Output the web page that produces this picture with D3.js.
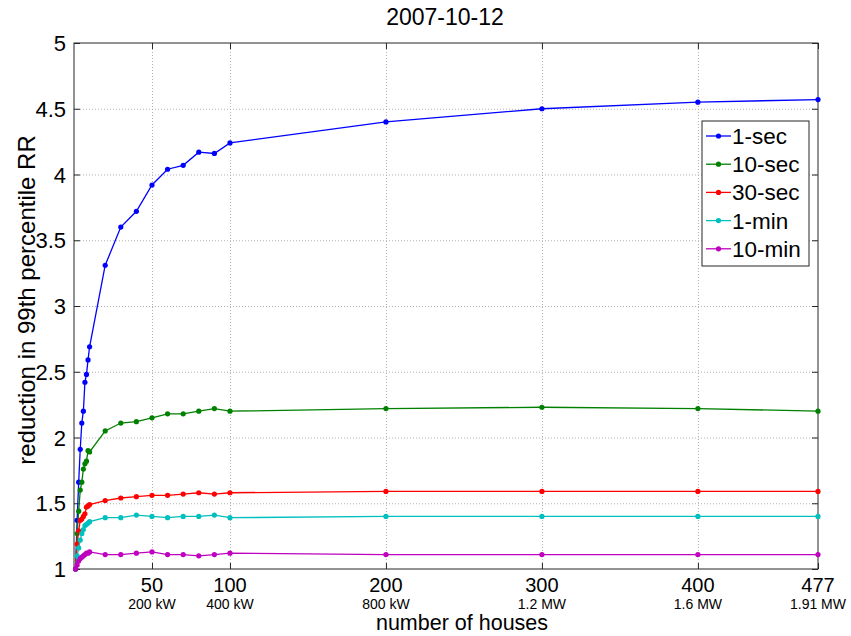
<!DOCTYPE html>
<html>
<head>
<meta charset="utf-8">
<script src="https://cdn.jsdelivr.net/npm/d3@7"></script>
<style>
  body { margin: 0; background: #fff; }
  svg { display: block; font-family: "Liberation Sans", Arial, Helvetica, sans-serif; }
</style>
</head>
<body>
<svg id="chart" width="851" height="636"></svg>
<script>
// Number of aggregated houses at each sample point
const houses = [1, 2, 3, 4, 5, 6, 7, 8, 9, 10, 20, 30, 40, 50, 60, 70, 80, 90, 100, 200, 300, 400, 477];

// Reduction in 99th percentile ramp rate for each averaging window
const sec1  = [1.00, 1.37, 1.66, 1.91, 2.11, 2.20, 2.42, 2.48, 2.59, 2.69, 3.31, 3.60, 3.72, 3.92, 4.04, 4.07, 4.17, 4.16, 4.24, 4.40, 4.50, 4.55, 4.57];
const sec10 = [1.00, 1.27, 1.44, 1.60, 1.66, 1.76, 1.80, 1.82, 1.90, 1.89, 2.05, 2.11, 2.12, 2.15, 2.18, 2.18, 2.20, 2.22, 2.20, 2.22, 2.23, 2.22, 2.20];
const sec30 = [1.00, 1.19, 1.29, 1.37, 1.38, 1.40, 1.42, 1.47, 1.48, 1.49, 1.52, 1.54, 1.55, 1.56, 1.56, 1.57, 1.58, 1.57, 1.58, 1.59, 1.59, 1.59, 1.59];
const min1  = [1.00, 1.10, 1.16, 1.22, 1.27, 1.30, 1.33, 1.34, 1.35, 1.36, 1.39, 1.39, 1.41, 1.40, 1.39, 1.40, 1.40, 1.41, 1.39, 1.40, 1.40, 1.40, 1.40];
const min10 = [1.00, 1.03, 1.06, 1.08, 1.09, 1.10, 1.11, 1.12, 1.12, 1.13, 1.11, 1.11, 1.12, 1.13, 1.11, 1.11, 1.10, 1.11, 1.12, 1.11, 1.11, 1.11, 1.11];

const seriesNames  = ["1-sec", "10-sec", "30-sec", "1-min", "10-min"];
const seriesValues = [sec1, sec10, sec30, min1, min10];
const seriesColors = ["#0000ff", "#008000", "#ff0000", "#00bfbf", "#bf00bf"];

// Tick labels: house count and the matching installed capacity
const xTicks = [50, 100, 200, 300, 400, 477];
const xTickPower = ["200 kW", "400 kW", "800 kW", "1.2 MW", "1.6 MW", "1.91 MW"];
const yTicks = [1, 1.5, 2, 2.5, 3, 3.5, 4, 4.5, 5];

const svg = d3.select("#chart");
const margin = { left: 74, right: 33, top: 43, bottom: 67 };
const W = 851, H = 636;
const x = d3.scaleLinear().domain([0, 477]).range([margin.left, W - margin.right]);
const y = d3.scaleLinear().domain([1, 5]).range([H - margin.bottom, margin.top]);

const x0 = x.range()[0], x1 = x.range()[1], y0 = y.range()[0], y1 = y.range()[1];

// Dotted grid
const grid = svg.append("g").attr("stroke", "#b0b0b0").attr("stroke-width", 1).attr("stroke-dasharray", "1,2");
grid.selectAll("line.v").data(xTicks.filter(d => d < 477)).enter().append("line")
  .attr("x1", d => x(d) + 0.5).attr("x2", d => x(d) + 0.5).attr("y1", y1).attr("y2", y0);
grid.selectAll("line.h").data(yTicks.filter(d => d > 1 && d < 5)).enter().append("line")
  .attr("x1", x0).attr("x2", x1).attr("y1", d => y(d) + 0.5).attr("y2", d => y(d) + 0.5);

// Axes with inward ticks on all four sides
const tickLen = 6;
const xAxisB = d3.axisBottom(x).tickValues(xTicks).tickSizeInner(-tickLen).tickSizeOuter(0).tickFormat("");
const xAxisT = d3.axisTop(x).tickValues(xTicks).tickSizeInner(-tickLen).tickSizeOuter(0).tickFormat("");
const yAxisL = d3.axisLeft(y).tickValues(yTicks).tickSizeInner(-tickLen).tickSizeOuter(0).tickFormat("");
const yAxisR = d3.axisRight(y).tickValues(yTicks).tickSizeInner(-tickLen).tickSizeOuter(0).tickFormat("");

function styleAxis(g) {
  g.selectAll("path, line").attr("stroke", "#262626");
  g.select(".domain").remove();
}
svg.append("g").attr("transform", `translate(0,${y0})`).call(xAxisB).call(styleAxis);
svg.append("g").attr("transform", `translate(0,${y1})`).call(xAxisT).call(styleAxis);
svg.append("g").attr("transform", `translate(${x0},0)`).call(yAxisL).call(styleAxis);
svg.append("g").attr("transform", `translate(${x1},0)`).call(yAxisR).call(styleAxis);

svg.append("rect").attr("x", x0).attr("y", y1).attr("width", x1 - x0).attr("height", y0 - y1)
  .attr("fill", "none").attr("stroke", "#262626").attr("stroke-width", 1);

// Tick labels
svg.append("g").selectAll("text").data(yTicks).enter().append("text")
  .attr("x", x0 - 8).attr("y", d => y(d) + 8).attr("text-anchor", "end")
  .attr("font-size", 22).attr("fill", "#000").text(d => d);

const xl = svg.append("g");
xl.selectAll("text.n").data(xTicks).enter().append("text")
  .attr("x", d => x(d)).attr("y", y0 + 23).attr("text-anchor", "middle")
  .attr("font-size", 20).attr("fill", "#000").text(d => d);
xl.selectAll("text.p").data(xTicks).enter().append("text")
  .attr("x", d => x(d)).attr("y", y0 + 40).attr("text-anchor", "middle")
  .attr("font-size", 14).attr("fill", "#000").text((d, i) => xTickPower[i]);

// Axis titles and chart title
svg.append("text").attr("x", 462).attr("y", 630).attr("text-anchor", "middle")
  .attr("font-size", 21.5).attr("fill", "#000").text("number of houses");
svg.append("text").attr("transform", `translate(35,300) rotate(-90)`)
  .attr("text-anchor", "middle").attr("font-size", 24).attr("fill", "#000")
  .text("reduction in 99th percentile RR");
svg.append("text").attr("x", 445).attr("y", 25).attr("text-anchor", "middle")
  .attr("font-size", 23).attr("fill", "#000").text("2007-10-12");

// Series lines with dot markers
const line = d3.line().x((d, i) => x(houses[i])).y(d => y(d));
const plot = svg.append("g");
seriesValues.forEach((vals, s) => {
  const g = plot.append("g");
  g.append("path").datum(vals).attr("d", line).attr("fill", "none")
    .attr("stroke", seriesColors[s]).attr("stroke-width", 1.3);
  g.selectAll("circle").data(vals).enter().append("circle")
    .attr("cx", (d, i) => x(houses[i])).attr("cy", d => y(d)).attr("r", 2.6)
    .attr("fill", seriesColors[s]);
});

// Legend
const lg = svg.append("g").attr("transform", "translate(702,121)");
lg.append("rect").attr("width", 107).attr("height", 145).attr("fill", "#fff").attr("stroke", "#262626");
seriesNames.forEach((name, i) => {
  const yy = 15 + i * 28.2;
  lg.append("line").attr("x1", 4).attr("x2", 29).attr("y1", yy).attr("y2", yy)
    .attr("stroke", seriesColors[i]).attr("stroke-width", 1.3);
  lg.append("circle").attr("cx", 16.5).attr("cy", yy).attr("r", 2.6).attr("fill", seriesColors[i]);
  lg.append("text").attr("x", 30).attr("y", yy + 8).attr("font-size", 22.5).attr("fill", "#000").text(name);
});
</script>
</body>
</html>
